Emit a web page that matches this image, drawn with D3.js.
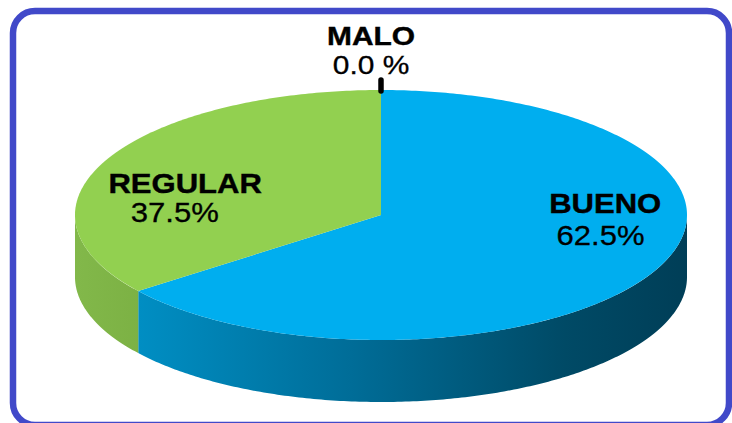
<!DOCTYPE html>
<html>
<head>
<meta charset="utf-8">
<title>3D pie</title>
<style>
  body {margin: 0; background: #fff;}
  svg {display: block;}
  .lbl {font-family: Arial, "Liberation Sans", sans-serif; fill: #000;}
</style>
</head>
<body>
<div id="chart"></div>
<script src="https://d3js.org/d3.v7.min.js"></script>
<script>
// data
var categories = ["MALO", "BUENO", "REGULAR"];
var values = [0.0, 62.5, 37.5];
var valueLabels = ["0.0 %", "62.5%", "37.5%"];

var W = 732, H = 423;
var cx = 381, cy = 215, rx = 306, ry = 125, depth = 62;
var skew = 7.5 * Math.PI / 180; // fake perspective: front angles spread out

var topColor = d3.scaleOrdinal().domain(categories).range(["#000000", "#00aeef", "#92d050"]);

var svg = d3.select("#chart").append("svg")
    .attr("width", W).attr("height", H);

var defs = svg.append("defs");
var gb = defs.append("linearGradient").attr("id", "sideBUENO")
    .attr("gradientUnits", "userSpaceOnUse")
    .attr("x1", cx - rx).attr("x2", cx + rx).attr("y1", 0).attr("y2", 0);
gb.append("stop").attr("offset", "0%").attr("stop-color", "#0098d0");
gb.append("stop").attr("offset", "45%").attr("stop-color", "#006d98");
gb.append("stop").attr("offset", "80%").attr("stop-color", "#004a66");
gb.append("stop").attr("offset", "100%").attr("stop-color", "#003e57");
var gg = defs.append("linearGradient").attr("id", "sideREGULAR")
    .attr("gradientUnits", "userSpaceOnUse")
    .attr("x1", cx - rx).attr("x2", cx - rx / 2).attr("y1", 0).attr("y2", 0);
gg.append("stop").attr("offset", "0%").attr("stop-color", "#82b84a");
gg.append("stop").attr("offset", "100%").attr("stop-color", "#74a83c");

// frame
svg.append("rect")
    .attr("x", 13).attr("y", 11)
    .attr("width", 716).attr("height", 414)
    .attr("rx", 22).attr("ry", 22)
    .attr("fill", "none")
    .attr("stroke", "#4149c9")
    .attr("stroke-width", 6.5);

var pie = d3.pie().sort(null).value(function(d, i) { return values[i]; });
var arcs = pie(categories);

function warp(a) { return a + skew * Math.sin(2 * a); }
function pt(a, f, dy) {
    var t = warp(a);
    return [cx + rx * f * Math.sin(t), cy - ry * f * Math.cos(t) + (dy || 0)];
}
function edge(a0, a1, dy) {
    var n = Math.max(2, Math.ceil((a1 - a0) / 0.01));
    return d3.range(n + 1).map(function(i) { return pt(a0 + (a1 - a0) * i / n, 1, dy); });
}

// side walls (front half only)
var walls = svg.append("g");
arcs.forEach(function(d) {
    var a0 = Math.max(d.startAngle, Math.PI / 2);
    var a1 = Math.min(d.endAngle, 3 * Math.PI / 2);
    if (a1 <= a0) return;
    var topE = edge(a0, a1, 0);
    var botE = edge(a0, a1, depth).reverse();
    walls.append("path")
        .attr("d", d3.line()(topE.concat(botE)) + "Z")
        .attr("fill", "url(#side" + d.data + ")");
});

// top faces
var tops = svg.append("g");
arcs.forEach(function(d) {
    if (d.endAngle - d.startAngle <= 0) return;
    var pts = [[cx, cy]].concat(edge(d.startAngle, d.endAngle, 0));
    tops.append("path")
        .attr("d", d3.line()(pts) + "Z")
        .attr("fill", topColor(d.data));
});

// zero slice shown as a black tick at its angle
arcs.filter(function(d) { return d.value === 0; }).forEach(function(d) {
    var p = pt(d.startAngle, 1, 0);
    svg.append("line")
        .attr("x1", p[0]).attr("y1", p[1] + 1)
        .attr("x2", p[0]).attr("y2", p[1] - 10)
        .attr("stroke", "#000").attr("stroke-width", 5.5)
        .attr("stroke-linecap", "round");
});

// labels: anchored on each slice's mid angle, nudged like the original
var labelFactor = {MALO: 1.0, BUENO: 0.76, REGULAR: 0.67};
var labelNudge = {MALO: [-10, -40], BUENO: [2, -25], REGULAR: [0, 8]};
var lineGap = {MALO: 29, BUENO: 32, REGULAR: 29};
var fontSize = {MALO: 26, BUENO: 27, REGULAR: 27};
var valueShift = {MALO: 0, BUENO: -4, REGULAR: -9};
var lines = svg.append("g");
arcs.forEach(function(d, i) {
    var mid = (d.startAngle + d.endAngle) / 2;
    var p = pt(mid, labelFactor[d.data], 0);
    var x = p[0] + labelNudge[d.data][0], y = p[1] + labelNudge[d.data][1];
    var g = lines.append("g").attr("transform", "translate(" + x + "," + y + ") scale(1.15,1)");
    g.append("text").attr("class", "lbl")
        .attr("text-anchor", "middle")
        .attr("y", -5)
        .attr("font-size", fontSize[d.data]).attr("font-weight", "bold")
        .attr("stroke", "#000").attr("stroke-width", 0.4)
        .text(d.data);
    g.append("text").attr("class", "lbl")
        .attr("text-anchor", "middle")
        .attr("x", valueShift[d.data])
        .attr("y", -5 + lineGap[d.data])
        .attr("font-size", fontSize[d.data])
        .attr("stroke", "#000").attr("stroke-width", 0.3)
        .text(valueLabels[i]);
});
</script>
</body>
</html>
